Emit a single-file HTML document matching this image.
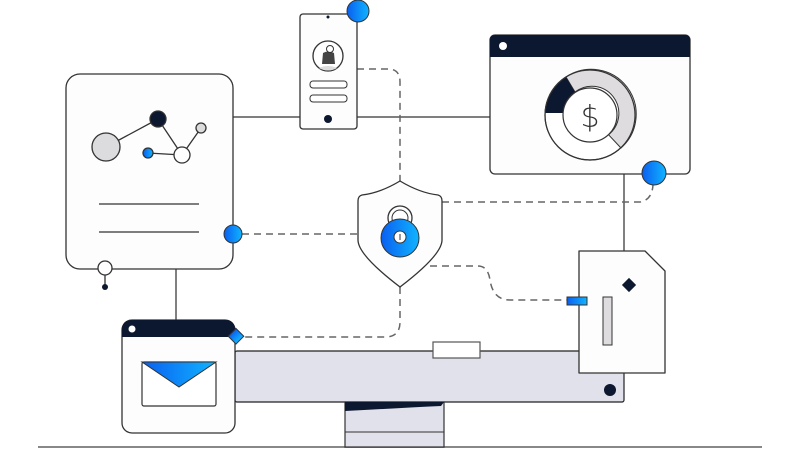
<!DOCTYPE html>
<html><head><style>html,body{margin:0;padding:0;background:#fff}svg{display:block}</style></head>
<body>
<svg width="800" height="450" viewBox="0 0 800 450" xmlns="http://www.w3.org/2000/svg">
<defs>
<linearGradient id="b" x1="0" y1="0" x2="1" y2="0"><stop offset="0" stop-color="#0a5ff0"/><stop offset="1" stop-color="#10b4ff"/></linearGradient>
</defs>
<g fill="none" stroke="#555" stroke-width="1.5">
<line x1="233" y1="117" x2="490" y2="117"/>
<line x1="176" y1="269" x2="176" y2="320"/>
<line x1="624" y1="174" x2="624" y2="251"/>
</g>
<g fill="none" stroke="#666" stroke-width="1.5" stroke-dasharray="7,5">
<path d="M357 69 H388 Q400 69 400 82 V181"/>
<path d="M400 287 V322 Q400 337 385 337 H240"/>
<path d="M242 234 H358"/>
<path d="M442 202 H640 Q652 200 653 185"/>
<path d="M430 266 H478 Q488 266 490 280 Q493 300 510 300 H567"/>
</g>
<line x1="38" y1="447" x2="762" y2="447" stroke="#888" stroke-width="2"/>
<rect x="235" y="351" width="389" height="51" rx="2" fill="#e0e1ea" stroke="#222" stroke-width="1.2"/>
<rect x="345" y="402" width="99" height="45" fill="#e0e1ea" stroke="#333" stroke-width="1.2"/>
<path d="M345 402 H444 L441 406 Q400 408 345 411 Z" fill="#0c1730"/>
<line x1="345" y1="432" x2="444" y2="432" stroke="#333"/>
<rect x="433" y="342" width="47" height="16" fill="#fff" stroke="#555" stroke-width="1.2"/>
<circle cx="610" cy="390" r="6" fill="#0c1730"/>
<rect x="66" y="74" width="167" height="195" rx="14" fill="#fdfdfd" stroke="#333" stroke-width="1.3"/>
<g stroke="#333" stroke-width="1.3">
<line x1="106" y1="147" x2="158" y2="119"/><line x1="158" y1="119" x2="182" y2="155"/><line x1="182" y1="155" x2="201" y2="128"/><line x1="148" y1="153" x2="182" y2="155"/>
<circle cx="106" cy="147" r="14" fill="#dcdbdd"/><circle cx="158" cy="119" r="8" fill="#0c1730"/><circle cx="201" cy="128" r="5" fill="#dcdbdd"/><circle cx="148" cy="153" r="5" fill="url(#b)"/><circle cx="182" cy="155" r="8" fill="#fff"/>
<line x1="99" y1="204" x2="199" y2="204"/><line x1="99" y1="232" x2="199" y2="232"/>
<line x1="105" y1="275" x2="105" y2="287"/>
<circle cx="105" cy="268" r="7" fill="#fff"/>
</g>
<circle cx="105" cy="287" r="3" fill="#0c1730"/>
<circle cx="233" cy="234" r="9" fill="url(#b)" stroke="#333"/>
<rect x="300" y="14" width="57" height="115" rx="3" fill="#fdfdfd" stroke="#333" stroke-width="1.3"/>
<circle cx="328" cy="17" r="1.5" fill="#0c1730"/>
<circle cx="328" cy="56" r="15" fill="#fff" stroke="#333" stroke-width="1.3"/>
<path d="M319 68 Q328 64 337 68 Q333 70.5 328 70.5 Q323 70.5 319 68Z" fill="#dcdbdd"/>
<path d="M322 64 L323 53 Q328 50 334 53 L335 64 Z" fill="#444"/>
<circle cx="330" cy="49" r="3.5" fill="#fff" stroke="#333"/>
<rect x="310" y="81" width="37" height="7" rx="3" fill="#fff" stroke="#333"/>
<rect x="310" y="95" width="37" height="7" rx="3" fill="#fff" stroke="#333"/>
<circle cx="328" cy="119" r="4" fill="#0c1730"/>
<circle cx="358" cy="11" r="11" fill="url(#b)" stroke="#333"/>
<rect x="490" y="35" width="200" height="139" rx="5" fill="#fdfdfd" stroke="#333" stroke-width="1.3"/>
<path d="M495 35 H685 Q690 35 690 40 V57 H490 V40 Q490 35 495 35Z" fill="#0c1730"/>
<circle cx="503" cy="46" r="4" fill="#fff"/>
<circle cx="590" cy="115" r="45" fill="#fff" stroke="#333" stroke-width="1.2"/>
<path d="M566 77 A45 45 0 0 1 621 148 L608.5 134.7 A27 27 0 0 0 575 92 Z" fill="#dfdcdf" stroke="#333" stroke-width="1"/>
<path d="M545 113 A45 45 0 0 1 566 77 L575 92 A27 27 0 0 0 563 113 Z" fill="#0c1730"/>
<circle cx="590" cy="115" r="45" fill="none" stroke="#333" stroke-width="1.2"/>
<circle cx="590" cy="115" r="27" fill="#fff" stroke="#333" stroke-width="1.2"/>
<text x="590" y="127" text-anchor="middle" font-family="DejaVu Sans, sans-serif" font-size="30" font-weight="200" fill="#333">$</text>
<circle cx="654" cy="173" r="12" fill="url(#b)" stroke="#333"/>
<path d="M400 181 Q380 193 362 195 Q358 196 358 201 V240 Q358 255 400 287 Q442 255 442 240 V201 Q442 196 438 195 Q420 193 400 181Z" fill="#fdfdfd" stroke="#333" stroke-width="1.3"/>
<circle cx="400" cy="218" r="12" fill="#fff" stroke="#333" stroke-width="1.3"/>
<circle cx="400" cy="218" r="8" fill="#fff" stroke="#333"/>
<circle cx="400" cy="238" r="19" fill="url(#b)" stroke="#333"/>
<circle cx="400" cy="237" r="6" fill="#fff" stroke="#333"/>
<line x1="400" y1="234" x2="400" y2="240" stroke="#333"/>
<path d="M579 251 H645 L665 271 V373 H579 Z" fill="#fdfdfd" stroke="#333" stroke-width="1.3" stroke-linejoin="round"/>
<rect x="624" y="280" width="10" height="10" fill="#0c1730" transform="rotate(45 629 285)"/>
<rect x="603" y="297" width="9" height="48" fill="#dfdcdf" stroke="#333"/>
<rect x="567" y="297" width="20" height="8" fill="url(#b)" stroke="#333"/>
<rect x="122" y="320" width="113" height="113" rx="10" fill="#fdfdfd" stroke="#333" stroke-width="1.3"/>
<path d="M132 320 H225 Q235 320 235 330 V337 H122 V330 Q122 320 132 320Z" fill="#0c1730"/>
<circle cx="132" cy="329" r="3.5" fill="#fff"/>
<rect x="142" y="362" width="74" height="44" rx="2" fill="#fff" stroke="#333" stroke-width="1.2"/>
<path d="M142 362 H216 L179 387Z" fill="url(#b)" stroke="#333"/>
<rect x="230" y="331" width="11" height="11" fill="url(#b)" stroke="#333" transform="rotate(45 236 337)"/>
</svg>
</body></html>
